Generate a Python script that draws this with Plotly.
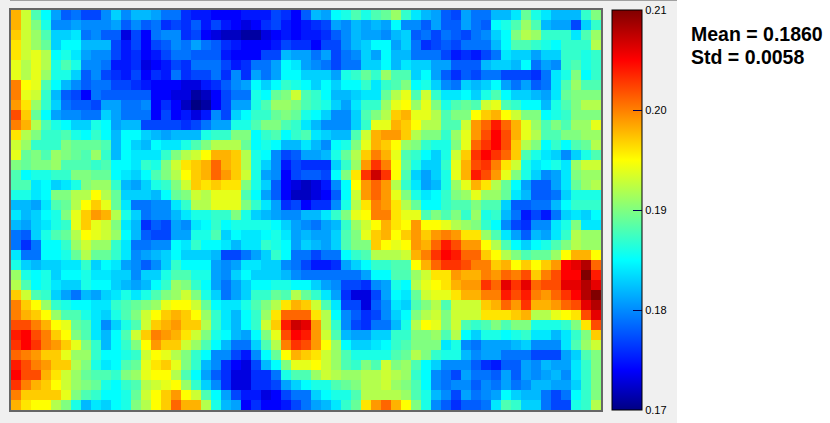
import plotly.graph_objects as go

W, H = 830, 423
BASE = 170  # heat values below are thousandths above 0.170

row_00 = [28,23,18,15,11,8,9,7,7,10,13,10,12,12,11,9,9,6,5,5,4,4,4,5,5,5,7,6,4,8,12,11,15,16,18,16,18,19,21,17,14,12,11,8,7,11,9,9,12,12,14,19,16,14,12,12,12,17,20]
row_01 = [28,23,20,16,10,10,11,10,10,10,11,8,10,8,9,6,7,6,8,5,7,5,4,3,4,6,7,5,4,5,6,7,11,10,12,11,12,11,15,10,10,8,11,8,8,11,9,8,15,16,18,21,18,12,11,11,7,13,17]
row_02 = [27,23,21,18,13,13,14,9,10,8,8,3,7,4,9,10,10,6,7,4,3,2,2,1,1,3,4,5,4,5,5,6,8,10,12,11,11,10,12,13,8,9,7,9,8,7,9,10,13,15,20,22,21,17,17,17,14,18,21]
row_03 = [26,23,21,19,13,15,15,12,12,12,7,5,7,4,7,8,10,9,11,9,8,6,5,4,4,4,5,7,6,6,4,7,7,10,12,13,15,15,11,13,9,6,7,8,7,9,9,9,12,15,18,18,17,16,15,17,17,17,22]
row_04 = [26,23,24,22,15,16,14,11,10,10,7,5,6,4,5,7,9,9,8,8,8,5,4,4,4,7,7,12,11,11,9,11,7,9,10,13,11,15,12,12,9,9,9,7,5,6,5,7,9,14,13,13,11,13,13,17,17,16,17]
row_05 = [24,22,24,22,16,18,16,10,10,9,5,5,6,3,4,5,7,6,9,9,9,7,5,6,9,9,11,15,14,11,10,9,7,9,9,13,13,15,12,14,13,13,11,11,8,8,8,12,13,13,12,15,9,11,10,17,18,16,17]
row_06 = [24,22,24,21,16,16,13,8,10,7,6,5,7,4,6,5,9,6,7,7,9,6,10,6,11,9,11,15,15,13,13,13,11,16,17,19,17,21,18,18,13,15,11,8,6,8,7,9,9,7,7,7,6,9,14,16,20,15,17]
row_07 = [30,25,24,18,15,12,10,8,9,9,7,7,6,5,4,4,4,3,3,5,6,8,10,11,15,13,15,17,16,15,13,15,13,15,15,17,14,17,18,20,15,16,13,10,9,13,12,13,15,11,9,11,8,9,14,18,21,18,18]
row_08 = [30,24,23,17,12,8,7,4,9,8,8,8,8,8,4,4,3,3,1,2,4,7,9,9,16,15,19,20,23,18,17,15,12,12,13,14,14,19,22,24,18,23,17,14,14,15,13,16,18,15,13,13,12,11,14,19,20,20,20]
row_09 = [29,26,21,17,13,9,8,8,7,11,11,9,9,10,4,6,4,2,0,1,4,7,11,11,16,18,21,21,20,18,17,16,13,11,14,17,17,21,24,25,21,24,20,16,18,19,18,23,24,18,17,15,15,12,16,18,20,22,22]
row_10 = [32,27,19,15,11,10,10,9,9,13,11,9,9,9,4,7,4,5,3,5,10,7,13,15,17,17,19,20,19,16,15,13,10,10,13,18,20,22,27,28,24,24,22,18,20,20,25,27,28,25,23,20,20,15,16,17,20,20,20]
row_11 = [30,28,22,18,16,15,13,13,16,15,11,12,12,7,7,7,7,6,7,9,11,11,16,16,18,20,20,18,17,14,12,10,10,10,13,17,24,24,28,27,25,22,22,18,18,23,29,31,34,31,28,24,21,18,20,18,21,21,24]
row_12 = [26,22,20,17,17,18,16,15,17,15,12,15,15,13,12,11,12,12,12,16,17,17,20,20,15,17,18,15,17,18,14,13,12,12,18,23,28,29,29,27,22,20,20,17,21,24,29,32,35,32,28,24,22,18,18,20,20,21,21]
row_13 = [23,21,17,17,17,20,19,19,19,18,12,15,13,12,15,14,14,16,18,20,22,22,22,19,15,16,15,12,12,14,12,10,15,16,20,24,28,27,25,21,20,17,16,16,20,24,31,33,35,32,27,22,20,15,17,15,18,19,22]
row_14 = [24,19,20,18,21,20,19,18,21,17,12,15,14,14,14,17,20,22,23,25,28,28,27,22,16,15,10,7,8,11,11,12,16,19,22,27,30,28,24,18,17,15,13,16,23,27,33,35,33,31,27,18,16,14,13,10,13,16,18]
row_15 = [20,19,20,20,21,18,18,18,17,18,15,15,14,17,16,20,23,26,27,28,31,28,27,22,16,13,10,5,7,6,6,6,13,17,21,29,33,30,25,19,16,13,13,17,24,28,32,33,30,26,23,16,14,15,16,14,21,23,23]
row_16 = [18,15,16,16,17,17,20,20,19,19,15,14,13,15,18,20,22,25,27,28,31,29,27,23,16,11,10,4,7,8,8,7,15,20,26,33,37,33,25,18,13,11,13,16,24,28,34,32,29,24,20,16,13,10,11,14,20,21,21]
row_17 = [18,18,14,15,13,14,16,20,21,21,17,12,11,13,16,17,20,23,27,26,27,26,26,20,16,13,8,4,3,2,3,5,10,15,25,29,31,29,22,17,14,11,12,16,21,24,28,26,22,19,15,11,8,8,11,14,19,21,22]
row_18 = [16,16,14,15,20,20,22,22,25,22,19,13,13,13,12,15,19,20,23,22,24,24,24,18,15,11,8,4,2,2,3,4,8,15,23,29,31,29,24,20,16,14,15,17,20,21,24,21,21,19,14,12,8,8,9,13,16,16,16]
row_19 = [12,12,11,14,18,19,22,25,27,24,19,14,9,9,10,10,14,17,22,22,24,24,24,20,17,14,11,6,7,4,6,6,10,16,22,26,30,29,26,22,19,15,15,17,18,18,20,18,18,13,8,8,9,9,12,15,17,17,17]
row_20 = [14,12,13,15,16,20,24,27,29,28,22,16,13,9,10,10,12,14,16,16,17,17,20,16,13,12,11,10,10,12,12,14,17,20,24,25,30,30,26,24,24,18,20,18,20,17,21,16,17,12,9,5,7,5,9,13,14,13,15]
row_21 = [12,11,13,14,16,17,24,27,24,23,20,14,12,6,8,7,11,10,14,15,17,15,16,16,16,16,15,13,11,10,9,11,12,17,21,23,25,28,26,25,29,25,25,24,22,21,20,17,15,10,7,6,10,10,14,16,20,14,14]
row_22 = [9,8,13,16,18,19,22,25,24,23,21,15,12,8,7,7,11,11,16,16,18,13,15,14,14,15,16,14,11,12,11,11,13,18,20,24,27,28,25,27,29,27,29,30,29,26,26,21,18,14,11,8,12,11,14,17,22,21,21]
row_23 = [9,6,9,15,15,17,21,23,21,21,17,14,9,9,10,10,15,14,17,15,15,14,12,14,14,17,16,15,11,13,12,11,13,18,20,20,27,25,24,25,29,28,31,34,32,29,29,25,22,18,15,13,15,16,18,20,22,21,21]
row_24 = [14,9,9,15,15,16,19,22,19,19,17,14,10,11,12,13,15,13,13,13,12,7,7,9,11,13,17,15,9,9,7,9,9,15,17,18,22,22,22,23,28,30,33,35,34,31,31,27,25,22,20,18,19,19,21,25,28,28,25]
row_25 = [16,13,12,13,13,14,14,17,13,15,14,11,10,8,10,13,17,15,15,15,11,10,11,14,14,13,13,10,9,7,5,5,6,11,13,15,17,17,18,18,25,28,31,33,33,32,30,30,27,28,25,27,25,27,29,35,36,38,31]
row_26 = [21,16,15,16,13,15,15,16,14,14,13,13,10,13,13,16,18,18,16,16,11,10,13,15,13,13,13,12,10,9,9,9,9,9,9,11,15,15,18,18,21,23,26,26,29,28,28,30,29,31,30,32,27,30,32,35,35,40,34]
row_27 = [22,18,15,16,14,13,13,16,15,15,13,12,11,12,15,17,21,20,17,15,11,9,11,13,15,15,16,16,15,15,13,11,10,7,7,6,10,11,16,15,22,24,25,26,28,29,29,33,31,36,33,36,31,32,32,36,36,38,36]
row_28 = [27,23,18,17,13,11,9,12,11,13,14,16,14,16,18,20,21,23,20,16,13,9,11,13,17,17,19,18,22,19,17,14,11,6,3,3,7,11,15,14,19,23,24,24,26,28,28,30,30,34,32,34,30,29,31,33,35,38,40]
row_29 = [30,27,25,21,17,16,15,15,14,14,17,18,19,20,21,24,25,25,23,19,15,14,14,16,18,20,22,26,28,27,23,18,14,7,7,3,8,10,14,13,18,20,22,18,23,23,23,27,28,31,29,33,28,28,29,31,32,36,38]
row_30 = [30,28,27,25,21,18,18,16,14,13,16,18,20,23,25,27,28,27,25,21,17,14,12,15,17,21,26,31,31,31,26,22,15,10,8,6,7,10,13,15,20,22,23,20,23,23,23,26,26,26,27,28,22,22,24,25,26,32,36]
row_31 = [32,32,30,28,25,24,19,18,14,10,13,16,18,23,27,28,29,27,27,22,17,14,12,15,17,23,27,34,37,36,29,22,17,10,7,6,9,9,12,16,22,25,24,20,23,18,17,18,20,18,20,20,16,16,16,17,20,26,32]
row_32 = [34,35,32,30,27,25,20,18,14,12,15,18,23,27,30,29,28,26,23,20,16,15,12,11,15,20,24,32,35,34,29,23,18,12,11,11,13,13,17,17,20,20,21,18,22,15,13,16,16,15,16,17,14,14,12,14,17,20,27]
row_33 = [33,35,33,30,29,27,24,20,17,12,15,17,20,25,29,27,27,23,21,18,15,12,9,9,13,18,22,30,33,32,29,25,21,15,13,13,14,15,17,18,20,20,20,14,16,10,9,11,11,11,12,13,10,10,10,14,18,21,23]
row_34 = [31,30,29,27,27,24,21,21,17,15,15,16,17,23,25,24,22,20,17,15,10,10,7,5,10,15,19,25,28,27,26,23,21,18,16,16,16,16,18,19,22,20,17,16,16,12,10,11,11,9,9,9,7,7,7,11,13,18,20]
row_35 = [34,32,30,29,27,27,22,20,16,14,15,18,19,24,26,27,24,20,17,12,10,6,4,3,7,12,15,20,24,24,25,23,21,18,17,20,18,23,20,21,18,15,13,10,10,10,8,6,5,8,8,11,10,12,11,11,14,17,20]
row_36 = [35,32,32,28,26,23,21,19,18,18,17,20,21,24,25,25,22,18,15,11,8,6,3,3,6,6,9,16,18,18,21,23,22,21,21,22,22,23,22,21,17,15,10,9,7,11,9,9,8,11,8,11,10,11,12,10,14,17,20]
row_37 = [33,30,28,27,25,23,21,20,19,16,15,17,18,22,23,24,25,21,17,13,10,6,3,3,6,6,7,11,13,15,16,16,18,19,20,22,22,23,21,20,18,15,10,9,10,10,8,10,9,11,9,10,12,12,11,11,13,17,20]
row_38 = [30,27,27,27,27,24,20,18,17,15,15,16,19,23,25,27,29,25,23,18,15,11,7,5,5,3,4,7,9,9,13,15,16,16,18,22,22,22,22,21,18,16,12,10,7,11,9,10,11,15,13,12,12,9,7,9,15,17,20]
row_39 = [28,26,25,25,22,20,16,12,14,13,15,16,20,22,25,27,31,28,28,22,16,12,11,4,6,4,4,5,7,9,11,12,14,17,19,26,29,31,28,25,20,16,10,8,6,8,8,9,14,18,17,13,13,9,7,7,16,17,22]

rows = [row_00,row_01,row_02,row_03,row_04,row_05,row_06,row_07,row_08,row_09,
        row_10,row_11,row_12,row_13,row_14,row_15,row_16,row_17,row_18,row_19,
        row_20,row_21,row_22,row_23,row_24,row_25,row_26,row_27,row_28,row_29,
        row_30,row_31,row_32,row_33,row_34,row_35,row_36,row_37,row_38,row_39]
z = [[(BASE + v) / 1000 for v in r] for r in rows]

tick_vals = [0.17, 0.18, 0.19, 0.20, 0.21]
tick_text = ["0.17", "0.18", "0.19", "0.20", "0.21"]
stats = ["Mean = 0.1860", "Std = 0.0058"]

jet = [[0, "rgb(0,0,131)"], [0.1, "rgb(0,0,255)"],
       [0.375, "rgb(0,255,255)"], [0.5, "rgb(128,255,128)"], [0.625, "rgb(255,255,0)"],
       [0.875, "rgb(255,0,0)"], [1, "rgb(128,0,0)"]]

fig = go.Figure(go.Heatmap(
    z=z, zmin=0.17, zmax=0.21, colorscale=jet, xgap=0, ygap=0,
    colorbar=dict(
        x=612/W, xanchor="left", xpad=0, ypad=0,
        y=1-410/H, yanchor="bottom", len=400, lenmode="pixels",
        thickness=30, thicknessmode="pixels",
        outlinecolor="black", outlinewidth=1,
        tickmode="array", tickvals=tick_vals, ticktext=tick_text,
        ticks="inside", ticklen=9, tickwidth=1, tickcolor="#000050",
        tickfont=dict(family="Liberation Sans", size=11, color="black"),
    ),
))
axis_common = dict(showgrid=False, zeroline=False, showticklabels=False, ticks="",
                   showline=True, mirror=True, linecolor="#666666", linewidth=1.5)
fig.update_xaxes(range=[-0.5, 58.5], domain=[11/W, 601/W], **axis_common)
fig.update_yaxes(range=[39.5, -0.5], domain=[1-410/H, 1-10/H], **axis_common)
fig.update_layout(
    width=W, height=H, margin=dict(l=0, r=0, t=0, b=0), paper_bgcolor="white",
    shapes=[
        dict(type="rect", xref="paper", yref="paper", x0=0, x1=677/W, y0=0, y1=1,
             fillcolor="#f0f0f0", line_width=0, layer="below"),
        dict(type="rect", xref="paper", yref="paper", x0=10/W, x1=677/W, y0=1-1/H, y1=1,
             fillcolor="#a0a0a0", line_width=0, layer="below"),
    ],
    annotations=[
        dict(text=stats[0], xref="paper", yref="paper", x=689/W, y=1-34/H, xanchor="left", yanchor="middle",
             showarrow=False, font=dict(family="Liberation Sans", size=19.5, color="black", weight="bold")),
        dict(text=stats[1], xref="paper", yref="paper", x=689/W, y=1-57/H, xanchor="left", yanchor="middle",
             showarrow=False, font=dict(family="Liberation Sans", size=19.5, color="black", weight="bold")),
    ],
)
fig.write_html("out.html", config=dict(displayModeBar=False),
               post_script="document.body.style.margin='0';document.body.style.overflow='hidden';")
